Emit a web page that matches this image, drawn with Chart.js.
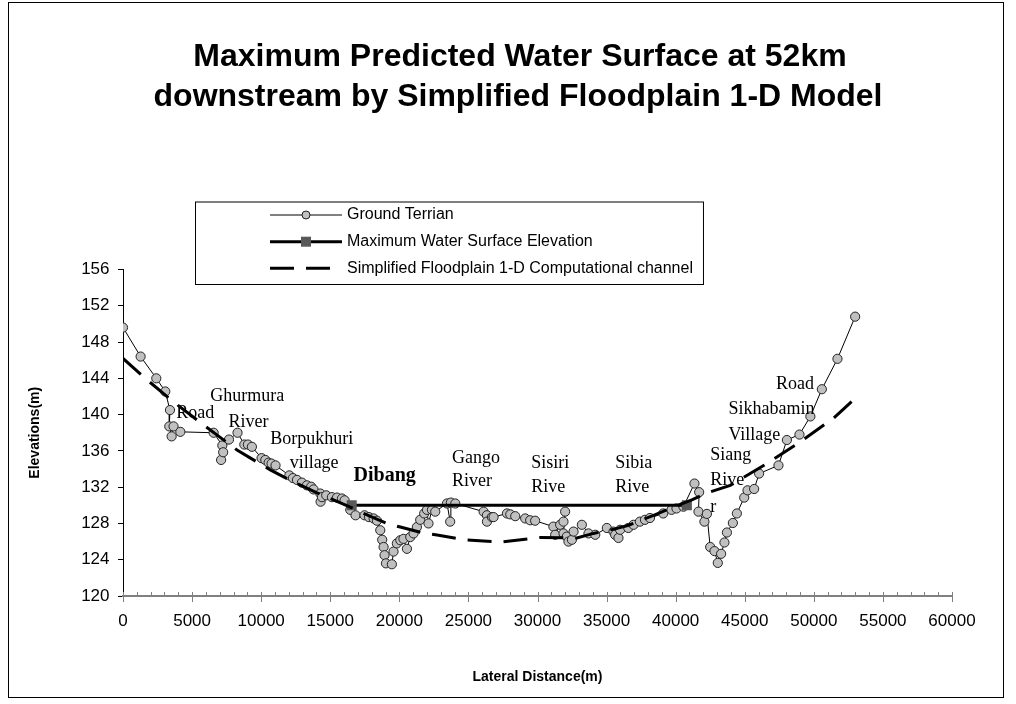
<!DOCTYPE html>
<html>
<head>
<meta charset="utf-8">
<script src="https://cdn.jsdelivr.net/npm/chart.js@4.4.0/dist/chart.umd.min.js"></script>
<style>
  html, body { margin: 0; padding: 0; background: #fff; }
  #wrap { position: relative; width: 1016px; height: 704px; }
  #frame { position: absolute; left: 8px; top: 2px; width: 996px; height: 696px; border: 1px solid #000; box-sizing: border-box; pointer-events: none; }
</style>
</head>
<body>
<div id="wrap">
  <canvas id="chart" width="1016" height="704"></canvas>
  <div id="frame"></div>
</div>
<script>
// Ground terrain (lateral distance m, elevation m)
const terrainX = [0, 1275, 2410, 3060, 3400, 3350, 3520, 3660, 4150, 6560,
  7190, 7100, 7250, 7670, 8290, 8780, 9040, 9330, 10030, 10300,
  10540, 10750, 11040, 12040, 12300, 12590, 12950, 13310, 13620, 13790,
  14280, 14300, 14400, 14710, 15120, 15490, 15850, 16040, 16450, 16830,
  17480, 17800, 18140, 18380, 18620, 18760, 18860, 18930, 19030, 19460,
  19580, 19820, 20070, 20300, 20550, 20790, 21030, 21270, 21510, 21800,
  22000, 22110, 22360, 22600, 23450, 23680, 23730, 24050, 26100, 26340,
  26340, 26700, 26820, 27790, 28030, 28390, 29110, 29470, 29830, 31150,
  31280, 31640, 31880, 32000, 31880, 32120, 32240, 32490, 32610, 33210,
  33690, 34180, 35020, 35500, 35620, 35860, 35980, 36570, 36950, 37410,
  37780, 38140, 39100, 39700, 40060, 40560, 41360, 41700, 41650, 42080,
  42260, 42500, 42810, 43050, 43290, 43530, 43710, 44140, 44430, 44960,
  45200, 45680, 46040, 47440, 48050, 48960, 49750, 50580, 51710, 52990]
const terrainY = [149.6, 146.4, 144.0, 142.55, 140.5, 138.7, 137.6, 138.7, 138.1, 138.0,
  136.6, 135.0, 135.85, 137.25, 138.0, 136.7, 136.7, 136.45, 135.2, 135.0,
  134.7, 134.6, 134.4, 133.3, 133.0, 132.8, 132.5, 132.2, 132.05, 131.75,
  131.3, 130.4, 130.9, 131.1, 130.9, 130.85, 130.75, 130.55, 129.5, 128.9,
  128.9, 128.7, 128.55, 128.3, 127.25, 126.2, 125.4, 124.5, 123.6, 123.5,
  124.9, 125.8, 126.15, 126.3, 125.2, 126.5, 126.9, 127.6, 128.4, 129.1,
  129.5, 128.0, 129.5, 129.3, 130.2, 128.2, 130.3, 130.2, 129.3, 128.9,
  128.2, 128.7, 128.7, 129.1, 129.0, 128.8, 128.55, 128.35, 128.3, 127.65,
  126.75, 127.85, 128.2, 129.3, 126.9, 126.55, 126.0, 126.2, 127.1, 127.85,
  126.9, 126.75, 127.5, 127.1, 126.75, 126.4, 127.3, 127.5, 127.85, 128.2,
  128.4, 128.6, 129.1, 129.5, 129.65, 129.85, 132.4, 131.45, 129.3, 128.2,
  129.05, 125.4, 124.95, 123.65, 124.65, 125.9, 127.0, 128.05, 129.1, 130.85,
  131.65, 131.8, 133.5, 134.4, 137.2, 137.8, 139.8, 142.8, 146.15, 150.8]

// Maximum water surface elevation
const waterX = [16550, 40810]
const waterY = [130, 130]

// Simplified floodplain 1-D computational channel
const channelX = [0, 1490, 3660, 5880, 8250, 10660, 12050, 14000, 16450, 17290,
  19100, 20070, 21870, 22840, 24650, 27430, 30200, 32850, 34050, 35620,
  36590, 38400, 39360, 41170, 42140, 43950, 46600, 49010, 51420, 52990]
const channelY = [146.2, 144.15, 141.4, 138.8, 136.1, 133.9, 132.8, 131.4, 129.8, 129.2,
  128.0, 127.6, 126.9, 126.7, 126.2, 125.95, 126.45, 126.4, 126.9, 127.4,
  127.8, 128.9, 129.5, 130.6, 131.3, 132.2, 134.6, 137.0, 139.6, 141.8]

const xTicks = [0, 5000, 10000, 15000, 20000, 25000, 30000, 35000, 40000, 45000, 50000, 55000, 60000]
const yTicks = [120, 124, 128, 132, 136, 140, 144, 148, 152, 156]

// text notes on the plot, anchored at data values
const noteText = ['Road', 'Ghurmura', 'River', 'Borpukhuri', 'village', 'Dibang',
  'Gango', 'River', 'Sisiri', 'Rive', 'Sibia', 'Rive',
  'Road', 'Sikhabamin', 'Village', 'Siang', 'Rive', 'r']
const noteX = [3860, 6320, 7640, 10660, 12060, 16690,
  23810, 23810, 29550, 29550, 35620, 35620,
  47270, 43820, 43820, 42500, 42500, 42500]
const noteY = [140.2, 142.0, 139.2, 137.3, 134.6, 133.3,
  135.2, 132.6, 134.6, 132.0, 134.6, 132.0,
  143.4, 140.6, 137.7, 135.5, 132.8, 129.8]

const titleLines = ['Maximum Predicted Water Surface at 52km', 'downstream by Simplified Floodplain 1-D Model']
const legendLabels = ['Ground Terrian', 'Maximum Water Surface Elevation', 'Simplified Floodplain 1-D Computational channel']

const toPoints = (xs, ys) => xs.map((x, i) => ({ x, y: ys[i] }))

const titlePlugin = {
  id: 'bigTitle',
  afterDraw (chart) {
    const { ctx } = chart
    ctx.save()
    ctx.fillStyle = '#000'
    ctx.font = 'bold 32px "Liberation Sans", Arial, sans-serif'
    ctx.textAlign = 'center'
    ctx.textBaseline = 'middle'
    ctx.fillText(titleLines[0], 520, 57)
    ctx.fillText(titleLines[1], 518, 97)
    ctx.restore()
  }
}

const minorTicks = {
  id: 'minorTicks',
  afterDraw (chart) {
    const { ctx, scales: { x }, chartArea } = chart
    ctx.save()
    ctx.strokeStyle = '#808080'
    ctx.lineWidth = 1
    for (let v = 0; v <= 60000; v += 1000) {
      const px = Math.round(x.getPixelForValue(v)) + 0.5
      ctx.beginPath()
      ctx.moveTo(px, chartArea.bottom - 4)
      ctx.lineTo(px, chartArea.bottom + (v % 5000 === 0 ? 6 : 0))
      ctx.stroke()
    }
    ctx.restore()
  }
}

const notes = {
  id: 'notes',
  afterDatasetsDraw (chart) {
    const { ctx, scales: { x, y } } = chart
    ctx.save()
    ctx.fillStyle = '#000'
    ctx.textAlign = 'left'
    ctx.textBaseline = 'middle'
    noteText.forEach((t, i) => {
      ctx.font = t === 'Dibang' ? 'bold 20px "Liberation Serif", serif' : '18px "Liberation Serif", serif'
      ctx.fillText(t, x.getPixelForValue(noteX[i]), y.getPixelForValue(noteY[i]))
    })
    ctx.restore()
  }
}

const boxLegend = {
  id: 'boxLegend',
  afterDraw (chart) {
    const { ctx } = chart
    const ds = chart.data.datasets
    const left = 195
    const top = 201.5
    const rowY = [215, 241.7, 268.3]
    ctx.save()
    ctx.font = '16px "Liberation Sans", Arial, sans-serif'
    let w = 0
    legendLabels.forEach(t => { w = Math.max(w, ctx.measureText(t).width) })
    const right = 347 + w + 10
    ctx.fillStyle = '#fff'
    ctx.fillRect(left, top, right - left, 284 - top)
    ctx.strokeStyle = '#000'
    ctx.lineWidth = 1
    ctx.strokeRect(left + 0.5, top + 0.5, right - left, 284 - top)
    const order = [2, 1, 0]
    order.forEach((di, row) => {
      const d = ds[di]
      const yy = rowY[row]
      ctx.save()
      ctx.strokeStyle = d.borderColor
      ctx.lineWidth = d.borderWidth
      ctx.setLineDash(d.borderDash || [])
      ctx.beginPath()
      ctx.moveTo(270, yy)
      ctx.lineTo(342, yy)
      ctx.stroke()
      ctx.setLineDash([])
      if (d.pointRadius > 0) {
        ctx.fillStyle = d.pointBackgroundColor
        ctx.strokeStyle = d.pointBorderColor
        ctx.lineWidth = 1
        if (d.pointStyle === 'rect') {
          ctx.fillRect(301, yy - 5, 10, 10)
        } else {
          ctx.beginPath()
          ctx.arc(306, yy, 4, 0, Math.PI * 2)
          ctx.fill()
          ctx.stroke()
        }
      }
      ctx.restore()
      ctx.fillStyle = '#000'
      ctx.textAlign = 'left'
      ctx.textBaseline = 'middle'
      ctx.fillText(legendLabels[row], 347, yy)
    })
    ctx.restore()
  }
}

new Chart(document.getElementById('chart').getContext('2d'), {
  type: 'scatter',
  data: {
    datasets: [
      {
        label: legendLabels[2],
        data: toPoints(channelX, channelY),
        showLine: true,
        borderColor: '#000',
        borderWidth: 3,
        borderDash: [24, 12],
        pointRadius: 0,
        order: 1
      },
      {
        label: legendLabels[1],
        data: toPoints(waterX, waterY),
        showLine: true,
        borderColor: '#000',
        borderWidth: 3,
        pointStyle: 'rect',
        pointRadius: 5,
        pointBackgroundColor: '#595959',
        pointBorderColor: '#595959',
        order: 2
      },
      {
        label: legendLabels[0],
        data: toPoints(terrainX, terrainY),
        showLine: true,
        borderColor: '#000',
        borderWidth: 1,
        pointStyle: 'circle',
        pointRadius: 4.6,
        pointBackgroundColor: '#c0c0c0',
        pointBorderColor: '#222',
        pointBorderWidth: 1,
        order: 3
      }
    ]
  },
  options: {
    responsive: false,
    animation: false,
    layout: { padding: { left: 0, right: 64, top: 269.5, bottom: 0 } },
    plugins: {
      legend: { display: false },
      title: { display: false },
      tooltip: { enabled: false }
    },
    scales: {
      x: {
        type: 'linear',
        min: 0,
        max: 60000,
        afterFit (scale) { scale.height = 108 },
        afterBuildTicks (scale) { scale.ticks = xTicks.map(v => ({ value: v })) },
        ticks: {
          autoSkip: false,
          maxRotation: 0,
          padding: 15,
          color: '#000',
          font: { family: '"Liberation Sans", Arial, sans-serif', size: 17 },
          callback: v => String(v)
        },
        grid: { display: true, drawOnChartArea: false, drawTicks: false },
        border: { color: '#808080', width: 2 },
        title: {
          display: true,
          text: 'Lateral Distance(m)',
          color: '#000',
          font: { family: '"Liberation Sans", Arial, sans-serif', size: 14, weight: 'bold' },
          padding: { top: 0, bottom: 18.6 }
        }
      },
      y: {
        min: 120,
        max: 156,
        afterFit (scale) { scale.width = 123 },
        afterBuildTicks (scale) { scale.ticks = yTicks.map(v => ({ value: v })) },
        ticks: {
          padding: 8.5,
          color: '#000',
          font: { family: '"Liberation Sans", Arial, sans-serif', size: 17 },
          callback: v => String(v)
        },
        grid: { display: true, drawOnChartArea: false, drawTicks: true, tickLength: 5, tickColor: '#000' },
        border: { color: '#000', width: 1 },
        title: {
          display: true,
          text: 'Elevations(m)',
          color: '#000',
          font: { family: '"Liberation Sans", Arial, sans-serif', size: 14, weight: 'bold' },
          padding: { top: 26.6, bottom: 0 }
        }
      }
    }
  },
  plugins: [minorTicks, notes, boxLegend, titlePlugin]
})
</script>
</body>
</html>
